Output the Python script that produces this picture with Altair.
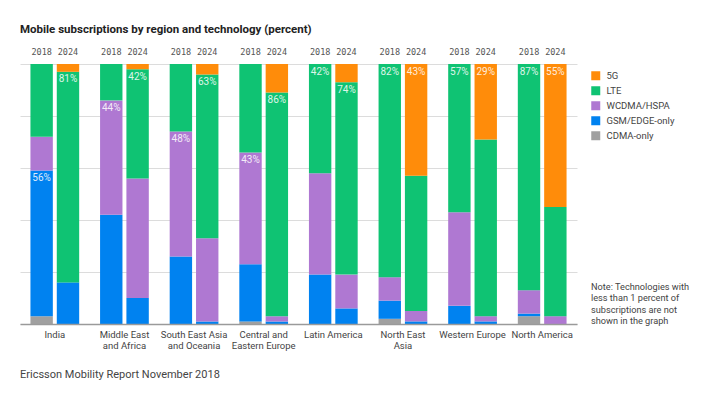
import altair as alt
import pandas as pd

regions = ["India", "Middle East\nand Africa", "South East Asia\nand Oceania",
           "Central and\nEastern Europe", "Latin America", "North East\nAsia",
           "Western Europe", "North America"]
years = ["2018", "2024"]
techs = ["CDMA-only", "GSM/EDGE-only", "WCDMA/HSPA", "LTE", "5G"]  # bottom to top
legend_order = ["5G", "LTE", "WCDMA/HSPA", "GSM/EDGE-only", "CDMA-only"]
legend_colors = ["#FF8C0A", "#0FC373", "#AF78D2", "#0082F0", "#A0A0A0"]

cdma_2018 = [3, 0, 0, 1, 0, 2, 0, 3]
gsm_2018 = [56, 42, 26, 22, 19, 7, 7, 1]
wcdma_2018 = [13, 44, 48, 43, 39, 9, 36, 9]
lte_2018 = [28, 14, 26, 34, 42, 82, 57, 87]
g5_2018 = [0, 0, 0, 0, 0, 0, 0, 0]

cdma_2024 = [0, 0, 0, 0, 0, 0, 0, 0]
gsm_2024 = [16, 10, 1, 1, 6, 1, 1, 0]
wcdma_2024 = [0, 46, 32, 2, 13, 4, 2, 3]
lte_2024 = [81, 42, 63, 86, 74, 52, 68, 42]
g5_2024 = [3, 2, 4, 11, 7, 43, 29, 55]

labeled_2018 = ["GSM/EDGE-only", "WCDMA/HSPA", "WCDMA/HSPA", "WCDMA/HSPA", "LTE", "LTE", "LTE", "LTE"]
labeled_2024 = ["LTE", "LTE", "LTE", "LTE", "LTE", "5G", "5G", "5G"]

title_text = "Mobile subscriptions by region and technology (percent)"
footer_text = "Ericsson Mobility Report November 2018"
note_text = "Note: Technologies with\nless than 1 percent of\nsubscriptions are not\nshown in the graph"

series = {
    "2018": [cdma_2018, gsm_2018, wcdma_2018, lte_2018, g5_2018],
    "2024": [cdma_2024, gsm_2024, wcdma_2024, lte_2024, g5_2024],
}
labeled = {"2018": labeled_2018, "2024": labeled_2024}

rows = []
for yr in years:
    for ti, tech in enumerate(techs):
        for ri, reg in enumerate(regions):
            v = series[yr][ti][ri]
            rows.append({"region": reg, "year": yr, "tech": tech, "order": ti,
                         "value": v, "label": labeled[yr][ri] == tech})
df = pd.DataFrame(rows)
df = df[df["value"] > 0]

year_df = pd.DataFrame([{"region": r, "year": y} for r in regions for y in years])

FONT = "Roboto"

x_enc = alt.X("region:N", sort=regions,
              scale=alt.Scale(paddingInner=0.3, paddingOuter=0.15),
              axis=alt.Axis(title=None, labelExpr="split(datum.label, '\\n')",
                            ticks=False, domainColor="#9a9a9a", domainWidth=1.5,
                            labelFontSize=9.5, labelColor="#444444", labelPadding=5,
                            labelFont=FONT, labelAngle=0, labelLineHeight=11.5, zindex=1))
xo_enc = alt.XOffset("year:N", sort=years, scale=alt.Scale(paddingInner=0.15))

bars = alt.Chart(df).mark_bar().encode(
    x=x_enc,
    xOffset=xo_enc,
    y=alt.Y("value:Q", stack="zero", scale=alt.Scale(domain=[0, 100]),
            axis=alt.Axis(title=None, labels=False, ticks=False, domain=False,
                          values=[0, 20, 40, 60, 80, 100], gridColor="#dcdcdc")),
    color=alt.Color("tech:N", scale=alt.Scale(domain=legend_order, range=legend_colors),
                    legend=alt.Legend(title=None, orient="none", legendX=571, legendY=7,
                                      symbolType="square", symbolSize=81, symbolStrokeWidth=0,
                                      labelFontSize=9.5, labelFont=FONT, labelColor="#444444",
                                      labelOffset=6, rowPadding=4, padding=0)),
    order=alt.Order("order:Q"),
)

pct = alt.Chart(df).transform_stack(
    stack="value", groupby=["region", "year"], as_=["v0", "v1"],
    sort=[alt.SortField("order", order="ascending")]
).transform_filter("datum.label").transform_calculate(
    txt="datum.value + '%'"
).mark_text(font=FONT, fontSize=10, color="white", opacity=0.85,
            baseline="middle", dy=7.5).encode(
    x=alt.X("region:N", sort=regions),
    xOffset=alt.XOffset("year:N", sort=years),
    y=alt.Y("v1:Q"),
    text="txt:N",
)

year_txt = alt.Chart(year_df).mark_text(font="DejaVu Sans Mono", fontSize=8.5,
                                        color="#555555", baseline="middle").encode(
    x=alt.X("region:N", sort=regions),
    xOffset=alt.XOffset("year:N", sort=years),
    y=alt.value(-12),
    text="year:N",
)

title = alt.Chart(pd.DataFrame({"t": [title_text]})).mark_text(
    font=FONT, fontSize=11.5, fontWeight="bold", color="#222222", align="left", baseline="middle"
).encode(x=alt.value(0), y=alt.value(-34), text="t:N")

footer = alt.Chart(pd.DataFrame({"t": [footer_text]})).mark_text(
    font=FONT, fontSize=11, color="#444444", align="left", baseline="middle"
).encode(x=alt.value(0), y=alt.value(311), text="t:N")

note = alt.Chart(pd.DataFrame({"t": [note_text]})).mark_text(
    font=FONT, fontSize=9.2, color="#444444", align="left", baseline="middle",
    lineBreak="\n", lineHeight=11.5
).encode(x=alt.value(571), y=alt.value(222.7), text="t:N")

chart = alt.layer(bars, pct, year_txt, title, footer, note).properties(
    width=557, height=260,
    autosize=alt.AutoSizeParams(type="none"),
    padding={"left": 12, "top": 56, "right": 122, "bottom": 66},
).configure_view(stroke=None)

chart.save("out.html", embed_options={"renderer": "svg", "actions": False})
